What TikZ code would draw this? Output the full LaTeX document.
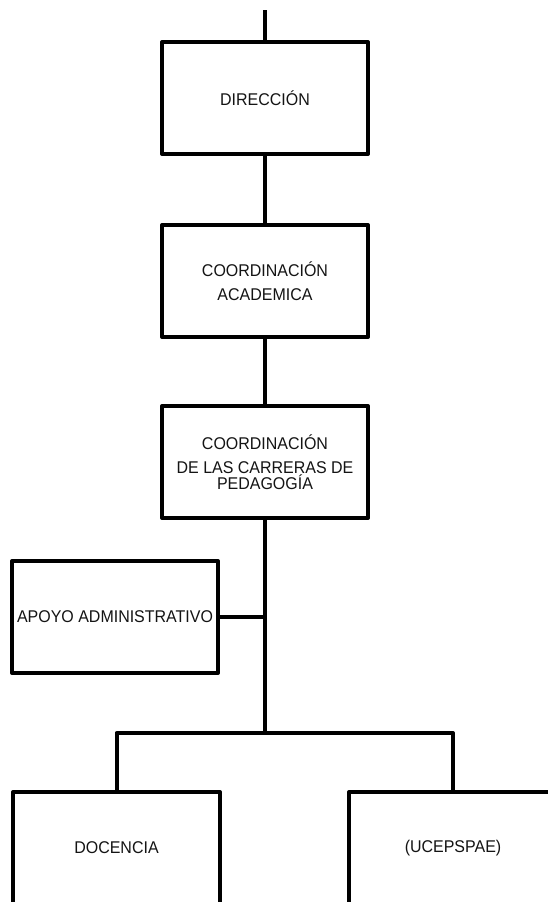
\documentclass[tikz,border=0pt]{standalone}
\usepackage{fontspec}
\setmainfont{Liberation Sans}[FakeStretch=0.94]
\begin{document}
\begin{tikzpicture}[x=1pt,y=-1pt,
  unitbox/.style={draw=black, line width=4pt, line join=round, fill=white,
    minimum width=206pt, minimum height=112pt, inner sep=0pt, align=center,
    font=\fontsize{17}{23.5}\selectfont, text=black!92},
  link/.style={draw=black, line width=4pt}]
\useasboundingbox (0,0) rectangle (548,902);
\clip (0,0) rectangle (548,902);

% boxes of the chart
\node[unitbox] (dir) at (265,98) {DIRECCIÓN};
\node[unitbox] (coa) at (265,281) {COORDINACIÓN\\ACADEMICA};
\node[unitbox] (ccp) at (265,462) {COORDINACIÓN\\DE LAS CARRERAS DE\\[-7.5pt]PEDAGOGÍA};
\node[unitbox] (apo) at (115,617) {APOYO ADMINISTRATIVO};
\node[unitbox, minimum width=207pt] (doc) at (116.5,848) {DOCENCIA};
\node[unitbox, minimum width=208pt] (uce) at (453,848) {(UCEPSPAE)};

% connector ends
\coordinate (top) at (265,10);
\coordinate (bus) at (265,733);

% connectors
\draw[link] (top) -- (dir.north);
\draw[link] (dir.south) -- (coa.north);
\draw[link] (coa.south) -- (ccp.north);
\draw[link] (ccp.south) -- (bus);
\draw[link] (apo.east) -- (apo.east -| bus);
\draw[link, line join=round] (doc.north) |- (bus) -| (uce.north);
\end{tikzpicture}
\end{document}
